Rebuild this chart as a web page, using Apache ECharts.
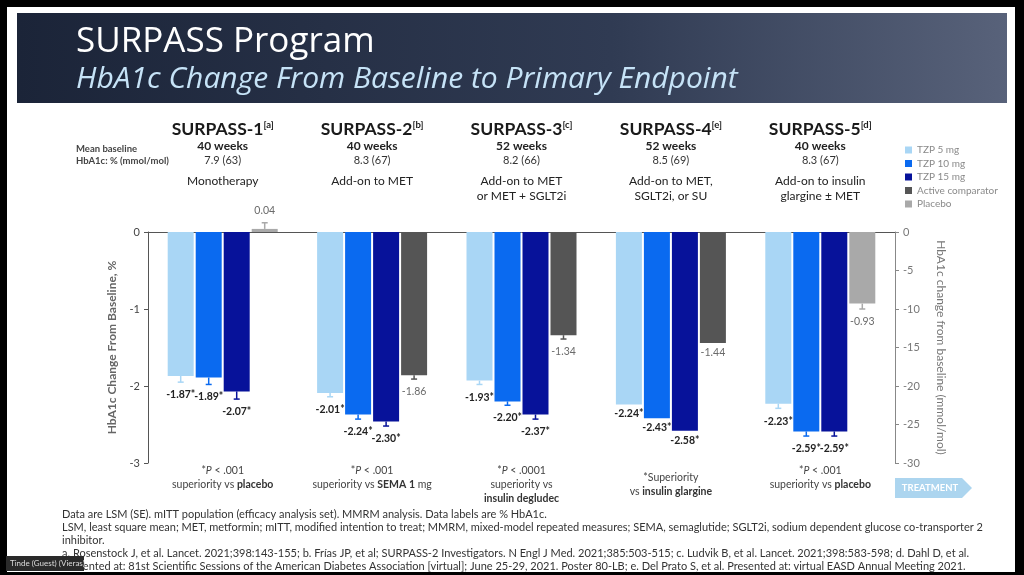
<!DOCTYPE html>
<html><head><meta charset="utf-8">
<script src="https://cdn.jsdelivr.net/npm/echarts@6/dist/echarts.min.js"></script>
<style>html,body{margin:0;padding:0;background:#000;}#c{width:1024px;height:575px;}</style>
</head><body><div id="c"></div>
<script>
// ---------- data ----------
const trials = ['SURPASS-1','SURPASS-2','SURPASS-3','SURPASS-4','SURPASS-5'];
const refs = ['a','b','c','e','d'];
const weeks = ['40 weeks','40 weeks','52 weeks','52 weeks','40 weeks'];
const baselines = ['7.9 (63)','8.3 (67)','8.2 (66)','8.5 (69)','8.3 (67)'];
const settings = [['Monotherapy'],['Add-on to MET'],['Add-on to MET','or MET + SGLT2i'],['Add-on to MET,','SGLT2i, or SU'],['Add-on to insulin','glargine ± MET']];
const pTexts = ['< .001','< .001','< .0001',null,'< .001'];
const comparators = ['placebo','SEMA 1 mg','insulin degludec','insulin glargine','placebo'];

const seriesNames = ['TZP 5 mg','TZP 10 mg','TZP 15 mg','Active comparator','Placebo'];
const tzp5  = [-1.87, -2.09, -1.93, -2.24, -2.23];
const tzp10 = [-1.89, -2.37, -2.20, -2.42, -2.59];
const tzp15 = [-2.07, -2.46, -2.37, -2.58, -2.59];
const active  = [null, -1.86, -1.34, -1.44, null];
const placebo = [0.04, null, null, null, -0.93];

const tzp5Labels  = ['-1.87*','-2.01*','-1.93*','-2.24*','-2.23*'];
const tzp10Labels = ['-1.89*','-2.24*','-2.20*','-2.43*','-2.59*'];
const tzp15Labels = ['-2.07*','-2.30*','-2.37*','-2.58*','-2.59*'];
const activeLabels  = [null,'-1.86','-1.34','-1.44',null];
const placeboLabels = ['0.04',null,null,null,'-0.93'];

// standard errors (error bars)
const se5  = [0.08, 0.05, 0.05, 0, 0.06];
const se10 = [0.09, 0.06, 0.05, 0, 0.06];
const se15 = [0.10, 0.06, 0.06, 0, 0.06];
const seActive  = [0, 0.05, 0.05, 0, 0];
const sePlacebo = [0.08, 0, 0, 0, 0.07];

const leftTicks = {min:-3, max:0, interval:1};
const rightTicks = {min:-30, max:0, interval:5};

const footerLines = [
 'Data are LSM (SE). mITT population (efficacy analysis set). MMRM analysis. Data labels are % HbA1c.',
 'LSM, least square mean; MET, metformin; mITT, modified intention to treat; MMRM, mixed-model repeated measures; SEMA, semaglutide; SGLT2i, sodium dependent glucose co-transporter 2',
 'inhibitor.',
 'a. Rosenstock J, et al. Lancet. 2021;398:143-155; b. Frías JP, et al; SURPASS-2 Investigators. N Engl J Med. 2021;385:503-515; c. Ludvik B, et al. Lancet. 2021;398:583-598; d. Dahl D, et al.',
 'Presented at: 81st Scientific Sessions of the American Diabetes Association [virtual]; June 25-29, 2021. Poster 80-LB; e. Del Prato S, et al. Presented at: virtual EASD Annual Meeting 2021.'
];

// ---------- style ----------
const FONT = 'Lato, "Open Sans", sans-serif';
const TFONT = '"Open Sans", Lato, sans-serif';
const colors = ['#a9d6f5','#0a6af0','#07129a','#555555','#a9a9a9'];
const BW = 26, GAP = 2;
const slotOffset = s => { const total = 4*BW + 3*GAP; return -total/2 + BW/2 + s*(BW+GAP); };
const unitPx = 77;

function barData(vals, ses){
  return vals.map((v,i)=> v==null ? null : ({
    value: v,
    label: {position: v>=0 ? 'top' : 'bottom', distance: 4 + Math.round((ses[i]||0)*unitPx) + (ses[i]?3:0)}
  }));
}
function mkBar(name, idx, vals, ses, labels, bold, stack){
  return {
    name, type:'bar', stack, barWidth:BW, barGap:(GAP/BW*100)+'%', clip:false,
    itemStyle:{color:colors[idx]},
    label:{show:true, fontFamily:FONT, fontSize:10.5, fontWeight: bold?'bold':'normal', color: bold?'#222':'#6a6a6a',
      formatter: p => labels[p.dataIndex] || ''},
    data: barData(vals, ses), z:3
  };
}

const errData = [];
[[tzp5,se5,0,0],[tzp10,se10,1,1],[tzp15,se15,2,2],[active,seActive,3,3],[placebo,sePlacebo,3,4]].forEach(([vals,ses,slot,col])=>{
  vals.forEach((v,i)=>{ if(v!=null && ses[i]) errData.push([i, v, ses[i], slot, col]); });
});

const headerLabels = trials.map((t,i)=>{
  const d = settings[i].slice(); if(d.length<2) d.push(' ');
  return '{t|'+t+'}{sup|['+refs[i]+']}\n{w|'+weeks[i]+'}\n{b|'+baselines[i]+'}\n{sp| }\n' + d.map(s=>'{d|'+s+'}').join('\n');
});
const footLabels = trials.map((t,i)=>{
  const c = comparators[i];
  if(pTexts[i]==null) return '{sp| }\n{n|*Superiority}\n{n|vs }{bb|'+c+'}';
  let second;
  if(c.length > 12 && c.indexOf('SEMA')<0) second = '{n|superiority vs}\n{bb|'+c+'}';
  else if(c.indexOf('SEMA')===0) second = '{n|superiority vs }{bb|SEMA 1}{n| mg}';
  else second = '{n|superiority vs }{bb|'+c+'}';
  return '{n|*}{i|P}{n| '+pTexts[i]+'}\n'+second;
});

const chart = echarts.init(document.getElementById('c'));
const option = {
  backgroundColor:'#000',
  animation:false,
  textStyle:{fontFamily:FONT},
  graphic:[
    {type:'rect', shape:{x:7,y:7,width:1008,height:565}, style:{fill:'#fff'}, z:-10},
    {type:'rect', shape:{x:17,y:13,width:990,height:90}, z:-9,
      style:{fill:new echarts.graphic.LinearGradient(0,0,1,0,[{offset:0,color:'#1b2438'},{offset:0.6,color:'#303b53'},{offset:1,color:'#58627a'}])}},
    {type:'text', left:76, top:25, style:{text:'SURPASS Program', font:'35px '+TFONT, fill:'#ffffff'}},
    {type:'text', left:76, top:64, style:{text:'HbA1c Change From Baseline to Primary Endpoint', font:'italic 30px '+TFONT, fill:'#c6e3f7'}},
    {type:'text', left:76, top:143, style:{text:'Mean baseline\nHbA1c: % (mmol/mol)', font:'bold 9.5px '+FONT, fill:'#444', lineHeight:12}},
    {type:'polygon', shape:{points:[[895,478],[962,478],[972,488],[962,498],[895,498]]}, style:{fill:'#acd5ef'}},
    {type:'text', x:930, y:488, style:{text:'TREATMENT', font:'bold 9.5px '+FONT, fill:'#ffffff', align:'center', verticalAlign:'middle'}},
    {type:'text', left:62, top:508, style:{text:footerLines.join('\n'), font:'11px '+FONT, fill:'#333', lineHeight:13}},
    {type:'rect', shape:{x:6,y:556,width:78,height:15}, style:{fill:'#2a2a2a'}, z:50},
    {type:'text', x:10, y:563.5, z:51, style:{text:'Tinde (Guest) (Vieras)', font:'8px '+FONT, fill:'#ddd', verticalAlign:'middle'}}
  ],
  legend:{
    left:900, top:140, orient:'vertical', icon:'rect', itemWidth:7, itemHeight:7, itemGap:3.5,
    textStyle:{fontSize:10, color:'#8a8a8a', fontFamily:FONT}, data:seriesNames
  },
  grid:{left:148, right:129, top:232, bottom:112, containLabel:false},
  xAxis:[
    {type:'category', data:trials, position:'top',
      axisLine:{lineStyle:{color:'#555', width:1}}, axisTick:{inside:true, length:4, lineStyle:{color:'#555'}},
      axisLabel:{interval:0, margin:28, formatter:(v,i)=>headerLabels[i], color:'#222', align:'center',
        rich:{
          t:{fontSize:17.5, fontWeight:'bold', color:'#1a1a1a', lineHeight:20, fontFamily:FONT},
          sup:{fontSize:9.5, fontWeight:'bold', color:'#1a1a1a', padding:[0,0,9,0], fontFamily:FONT},
          w:{fontSize:12, fontWeight:'bold', color:'#222', lineHeight:15, fontFamily:FONT},
          b:{fontSize:11, color:'#333', lineHeight:13, fontFamily:FONT},
          sp:{fontSize:6, lineHeight:7},
          d:{fontSize:12, color:'#222', lineHeight:15, fontFamily:FONT}
        }}},
    {type:'category', data:trials, position:'bottom',
      axisLine:{show:false}, axisTick:{show:false},
      axisLabel:{interval:0, margin:1, formatter:(v,i)=>footLabels[i], align:'center', verticalAlign:'top',
        rich:{
          n:{fontSize:10.5, color:'#444', lineHeight:14, fontFamily:FONT},
          i:{fontSize:10.5, color:'#444', lineHeight:14, fontStyle:'italic', fontFamily:FONT},
          bb:{fontSize:10.5, color:'#333', fontWeight:'bold', lineHeight:14, fontFamily:FONT},
          sp:{fontSize:6, lineHeight:7}
        }}}
  ],
  yAxis:[
    {type:'value', position:'left', min:leftTicks.min, max:leftTicks.max, interval:leftTicks.interval,
      name:'HbA1c Change From Baseline, %', nameLocation:'middle', nameGap:30,
      nameTextStyle:{fontSize:12, fontWeight:'bold', color:'#666', fontFamily:FONT},
      axisLine:{show:true, lineStyle:{color:'#555'}}, axisTick:{show:true, length:4},
      axisLabel:{fontSize:11, color:'#444', margin:8}, splitLine:{show:false}},
    {type:'value', position:'right', min:rightTicks.min, max:rightTicks.max, interval:rightTicks.interval,
      name:'HbA1c change from baseline (mmol/mol)', nameLocation:'middle', nameGap:40, nameRotate:-90,
      nameTextStyle:{fontSize:12, color:'#777', fontFamily:FONT},
      axisLine:{show:true, lineStyle:{color:'#888'}}, axisTick:{show:true, length:4},
      axisLabel:{fontSize:11, color:'#777', margin:8}, splitLine:{show:false}}
  ],
  series:[
    mkBar(seriesNames[0],0,tzp5,se5,tzp5Labels,true),
    mkBar(seriesNames[1],1,tzp10,se10,tzp10Labels,true),
    mkBar(seriesNames[2],2,tzp15,se15,tzp15Labels,true),
    mkBar(seriesNames[3],3,active,seActive,activeLabels,false,'comp'),
    mkBar(seriesNames[4],4,placebo,sePlacebo,placeboLabels,false,'comp'),
    {type:'custom', name:'err', clip:false, z:4, data:errData, encode:{x:0,y:1},
      renderItem:(params, api)=>{
        const cat=api.value(0), v=api.value(1), se=api.value(2), slot=api.value(3), col=colors[api.value(4)];
        const a=api.coord([cat,v]), b=api.coord([cat, v<0 ? v-se : v+se]);
        const x=a[0]+slotOffset(slot);
        return {type:'group', children:[
          {type:'line', shape:{x1:x,y1:a[1],x2:x,y2:b[1]}, style:{stroke:col,lineWidth:1.5}},
          {type:'line', shape:{x1:x-3,y1:b[1],x2:x+3,y2:b[1]}, style:{stroke:col,lineWidth:1.5}}
        ]};
      }}
  ]
};
chart.setOption(option);
</script></body></html>
